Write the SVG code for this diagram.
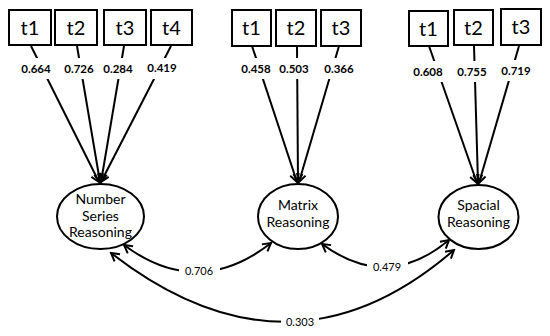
<svg xmlns="http://www.w3.org/2000/svg" width="550" height="336" viewBox="0 0 550 336">
<style>
.box{fill:#fff;stroke:#000;stroke-width:2}
.lat{fill:#fff;stroke:#000;stroke-width:2}
.ln{fill:none;stroke:#000;stroke-width:2;marker-end:url(#ah)}
.cv{fill:none;stroke:#000;stroke-width:2;marker-start:url(#ah);marker-end:url(#ah)}
.bg{fill:#fff}
.tb{font-family:Lato,"Liberation Sans",sans-serif;font-size:20px;text-anchor:middle;fill:#000}
.tl{font-family:Lato,"Liberation Sans",sans-serif;font-size:14px;text-anchor:middle;fill:#000}
.ld{font-family:Lato,"Liberation Sans",sans-serif;font-size:11.5px;font-weight:bold;text-anchor:middle;fill:#000}
.cl{font-family:Lato,"Liberation Sans",sans-serif;font-size:11px;text-anchor:middle;fill:#000}
</style>
<defs>
<marker id="ah" viewBox="-10 -6 12 12" refX="0" refY="0" markerWidth="12" markerHeight="12" markerUnits="userSpaceOnUse" orient="auto-start-reverse">
<path d="M-8,-4.5 L0,0 L-8,4.5" fill="none" stroke="#000" stroke-width="2"/>
</marker>
</defs>
<rect width="550" height="336" fill="#fff"/>
<g id="connectors">
<line class="ln" x1="31" y1="46" x2="99" y2="182"/>
<line class="ln" x1="77" y1="46" x2="100" y2="182"/>
<line class="ln" x1="124" y1="46" x2="101" y2="182"/>
<line class="ln" x1="171" y1="46" x2="101" y2="182"/>
<line class="ln" x1="252" y1="46" x2="297" y2="182"/>
<line class="ln" x1="297" y1="46" x2="298" y2="182"/>
<line class="ln" x1="339" y1="46" x2="299" y2="182"/>
<line class="ln" x1="429" y1="46" x2="477" y2="183"/>
<line class="ln" x1="474" y1="46" x2="478" y2="183"/>
<line class="ln" x1="519" y1="46" x2="479" y2="183"/>
<path class="cv" d="M124,245 Q198,300 271,243"/>
<path class="cv" d="M322,244 Q387,292 449,240"/>
<path class="cv" d="M111,253 Q290,392 454,250"/>
<rect class="bg" x="19" y="58" width="34" height="21"/>
<rect class="bg" x="62" y="58" width="34" height="21"/>
<rect class="bg" x="101" y="58" width="34" height="21"/>
<rect class="bg" x="145" y="58" width="34" height="21"/>
<rect class="bg" x="239" y="58" width="34" height="21"/>
<rect class="bg" x="277" y="58" width="34" height="21"/>
<rect class="bg" x="322" y="58" width="34" height="21"/>
<rect class="bg" x="411" y="61" width="34" height="21"/>
<rect class="bg" x="455" y="61" width="34" height="21"/>
<rect class="bg" x="499" y="60" width="34" height="21"/>
<rect class="bg" x="179" y="263" width="41" height="16"/>
<rect class="bg" x="367" y="259" width="41" height="16"/>
<rect class="bg" x="281" y="314" width="38" height="16"/>
<text class="ld" x="36" y="73">0.664</text>
<text class="ld" x="79" y="73">0.726</text>
<text class="ld" x="118" y="73">0.284</text>
<text class="ld" x="162" y="72">0.419</text>
<text class="ld" x="256" y="73">0.458</text>
<text class="ld" x="294" y="73">0.503</text>
<text class="ld" x="339" y="73">0.366</text>
<text class="ld" x="428" y="76">0.608</text>
<text class="ld" x="472" y="76">0.755</text>
<text class="ld" x="516" y="75">0.719</text>
<text class="cl" x="199" y="275">0.706</text>
<text class="cl" x="387" y="271">0.479</text>
<text class="cl" x="300" y="326">0.303</text>
</g>
<g id="ns-t1"><rect class="box" x="9" y="10" width="42" height="35"/><text class="tb" x="30" y="35">t1</text></g>
<g id="ns-t2"><rect class="box" x="55" y="10" width="42" height="35"/><text class="tb" x="76" y="35">t2</text></g>
<g id="ns-t3"><rect class="box" x="104" y="10" width="42" height="35"/><text class="tb" x="125" y="35">t3</text></g>
<g id="ns-t4"><rect class="box" x="151" y="10" width="41" height="35"/><text class="tb" x="171.5" y="35">t4</text></g>
<g id="mr-t1"><rect class="box" x="232" y="10" width="39" height="36"/><text class="tb" x="251.5" y="35">t1</text></g>
<g id="mr-t2"><rect class="box" x="276" y="10" width="40" height="36"/><text class="tb" x="296" y="35">t2</text></g>
<g id="mr-t3"><rect class="box" x="321" y="10" width="40" height="36"/><text class="tb" x="341" y="35">t3</text></g>
<g id="sr-t1"><rect class="box" x="409" y="11" width="39" height="35"/><text class="tb" x="428.5" y="36">t1</text></g>
<g id="sr-t2"><rect class="box" x="454" y="10" width="39" height="35"/><text class="tb" x="473.5" y="35">t2</text></g>
<g id="sr-t3"><rect class="box" x="501" y="9" width="40" height="36"/><text class="tb" x="521" y="34">t3</text></g>
<g id="number-series"><ellipse class="lat" cx="100.5" cy="216.5" rx="43.5" ry="32.5"/>
<text class="tl" x="100.5" y="204">Number</text><text class="tl" x="100.5" y="221">Series</text><text class="tl" x="100.5" y="237">Reasoning</text></g>
<g id="matrix"><ellipse class="lat" cx="298" cy="216.5" rx="40" ry="32.5"/>
<text class="tl" x="298" y="210">Matrix</text><text class="tl" x="298" y="227">Reasoning</text></g>
<g id="spacial"><ellipse class="lat" cx="478.5" cy="217" rx="40" ry="32"/>
<text class="tl" x="478.5" y="210">Spacial</text><text class="tl" x="478.5" y="227">Reasoning</text></g>
</svg>
